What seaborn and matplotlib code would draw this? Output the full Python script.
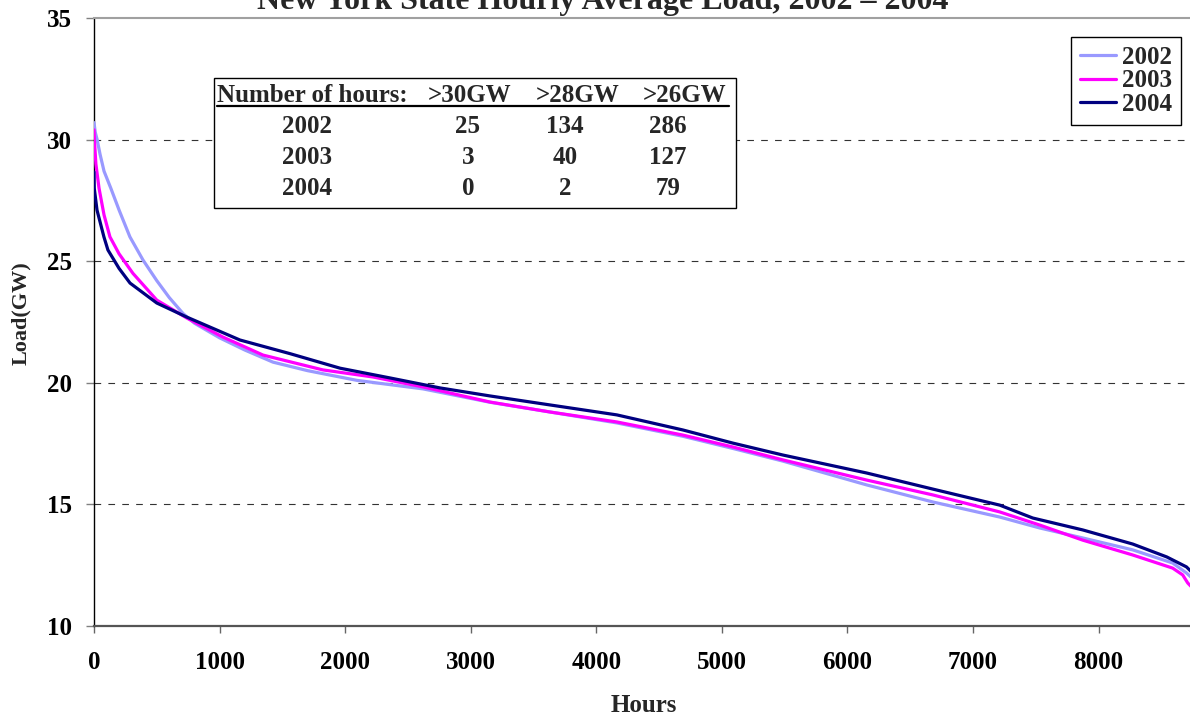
import matplotlib
matplotlib.use("Agg")
import matplotlib.pyplot as plt
import numpy as np
import pandas as pd
import seaborn as sns
from matplotlib.patches import Rectangle
from matplotlib.lines import Line2D

# ---------------- data ----------------
years = ["2002", "2003", "2004"]

hours_2002 = [0, 10, 25, 48, 80, 134, 200, 286, 390, 500, 600, 709, 800, 1000,
              1200, 1425, 1700, 2094, 2620, 3153, 3631, 4164, 4690, 5088, 5486,
              6154, 6680, 7213, 7532, 7874, 8272, 8590, 8700, 8760]
load_2002 = [30.7, 30.3, 30.0, 29.4, 28.7, 28.0, 27.1, 26.0, 25.05, 24.2, 23.5,
             22.85, 22.45, 21.85, 21.35, 20.85, 20.5, 20.1, 19.75, 19.2, 18.8,
             18.35, 17.8, 17.3, 16.78, 15.8, 15.1, 14.48, 14.03, 13.62,
             13.13, 12.59, 12.18, 11.9]

hours_2003 = [0, 3, 15, 40, 80, 127, 200, 310, 500, 740, 1027, 1346, 1823, 2221,
              2620, 3153, 3631, 4164, 4690, 5088, 5486, 6154, 6680, 7213,
              7532, 7874, 8272, 8590, 8670, 8710, 8760]
load_2003 = [30.4, 30.0, 29.0, 28.0, 26.9, 26.0, 25.3, 24.5, 23.4, 22.66, 21.88,
             21.14, 20.53, 20.24, 19.83, 19.21, 18.8, 18.39, 17.85, 17.36, 16.83,
             16.0, 15.39, 14.69, 14.15, 13.53, 12.92, 12.38, 12.1, 11.77,
             11.5]

hours_2004 = [0, 2, 24, 79, 111, 200, 287, 500, 740, 1162, 1560, 1960, 2357,
              2755, 3153, 3631, 4164, 4690, 5088, 5486, 6154, 6680, 7213,
              7476, 7874, 8272, 8543, 8700, 8784]
load_2004 = [28.67, 28.0, 27.1, 26.0, 25.46, 24.7, 24.1, 23.28, 22.7, 21.76,
             21.2, 20.6, 20.2, 19.79, 19.46, 19.09, 18.68, 18.06, 17.52, 17.03,
             16.29, 15.63, 14.97, 14.44, 13.95, 13.37, 12.84, 12.43, 12.0]

table_header = ["Number of hours:", ">30GW", ">28GW", ">26GW"]
hours_over_30 = [25, 3, 0]
hours_over_28 = [134, 40, 2]
hours_over_26 = [286, 127, 79]

x_ticks = [0, 1000, 2000, 3000, 4000, 5000, 6000, 7000, 8000]
y_ticks = [10, 15, 20, 25, 30, 35]
grid_levels = [15, 20, 25, 30]

title = "New York State Hourly Average Load, 2002 \u2013 2004"
x_label = "Hours"
y_label = "Load(GW)"

colors = {"2002": "#9999FF", "2003": "#FF00FF", "2004": "#000080"}

# ---------------- style ----------------
sns.set_theme(style="white")
plt.rcParams["font.family"] = ["Liberation Serif", "DejaVu Serif"]
plt.rcParams["font.weight"] = "bold"

W, H = 1190, 717
fig = plt.figure(figsize=(W / 100, H / 100), dpi=100)
fig.patch.set_facecolor("white")


def fx(px):
    return px / W


def fy(py):
    return 1 - py / H


ax = fig.add_axes([fx(94), fy(626), (1194 - 94) / W, (626 - 18) / H])
ax.set_facecolor("white")

df = pd.concat([
    pd.DataFrame({"Hours": hours_2002, "Load": load_2002, "Year": "2002"}),
    pd.DataFrame({"Hours": hours_2003, "Load": load_2003, "Year": "2003"}),
    pd.DataFrame({"Hours": hours_2004, "Load": load_2004, "Year": "2004"}),
], ignore_index=True)

for lv in grid_levels:
    ax.axhline(lv, color="#333333", lw=0.8, ls=(0, (6, 6.5)), zorder=0)

sns.lineplot(data=df, x="Hours", y="Load", hue="Year", palette=colors,
             linewidth=2.3, ax=ax, legend=False, sort=False, zorder=3)

ax.set_xlim(0, 8760)
ax.set_ylim(10, 35)
ax.set_xticks(x_ticks)
ax.set_yticks(y_ticks)
ax.set_xticklabels([str(t) for t in x_ticks])
ax.set_yticklabels([str(t) for t in y_ticks])
ax.set_xlabel("")
ax.set_ylabel("")
ax.tick_params(axis="x", labelsize=18, direction="out", length=5, width=1,
               color="#666666", pad=13, bottom=True)
ax.tick_params(axis="y", labelsize=18, direction="out", length=6, width=1,
               color="#808080", pad=10, left=True)
for lbl in ax.get_xticklabels() + ax.get_yticklabels():
    lbl.set_fontweight("bold")
    lbl.set_color("black")

ax.spines["left"].set_color("black")
ax.spines["left"].set_linewidth(1.0)
ax.spines["bottom"].set_color("#555555")
ax.spines["bottom"].set_linewidth(1.6)
ax.spines["top"].set_color("#a0a0a0")
ax.spines["top"].set_linewidth(1.5)
ax.spines["right"].set_visible(False)

# title (clipped at top as in the reference)
fig.text(fx(603), fy(9.5), title, fontsize=23, fontweight="bold",
         ha="center", va="baseline")
fig.text(fx(644), fy(706), x_label, fontsize=18, fontweight="bold",
         ha="center", va="center")
fig.text(fx(21), fy(313), y_label, fontsize=16, fontweight="bold",
         ha="center", va="center", rotation=90)

# legend
handles = [Line2D([0], [0], color=colors[y], lw=2.3) for y in years]
leg = ax.legend(handles, years, loc="upper right",
                bbox_to_anchor=(fx(1181), fy(37)),
                bbox_transform=fig.transFigure, borderaxespad=0,
                fontsize=18, frameon=True, fancybox=False, framealpha=1,
                edgecolor="black", borderpad=0.35, labelspacing=0.02,
                handlelength=1.45, handletextpad=0.25)
leg.get_frame().set_linewidth(1.0)
for t in leg.get_texts():
    t.set_fontweight("bold")

# table
tr = fig.transFigure
box = Rectangle((fx(214), fy(208)), fx(736) - fx(214), fy(78) - fy(208),
                transform=tr, facecolor="white", edgecolor="black", lw=1.0,
                zorder=10, clip_on=False)
ax.add_patch(box)
hdr_pos = [(217, "left"), (470, "center"), (578, "center"), (685, "center")]
for (px, ha), txt in zip(hdr_pos, table_header):
    ax.text(fx(px), fy(102), txt, transform=tr, fontsize=18, fontweight="bold",
            ha=ha, va="baseline", zorder=11, clip_on=False)
ax.add_line(Line2D([fx(217), fx(729)], [fy(105.5), fy(105.5)], transform=tr,
                   color="black", lw=1.6, zorder=11, clip_on=False))
row_base = [133, 164, 195]
col_x = [307, 468, 565, 668]
for i, yr in enumerate(years):
    vals = [yr, str(hours_over_30[i]), str(hours_over_28[i]), str(hours_over_26[i])]
    for cx, v in zip(col_x, vals):
        ax.text(fx(cx), fy(row_base[i]), v, transform=tr, fontsize=18,
                fontweight="bold", ha="center", va="baseline", zorder=11,
                clip_on=False)

fig.savefig("out.png", dpi=100, facecolor="white")
